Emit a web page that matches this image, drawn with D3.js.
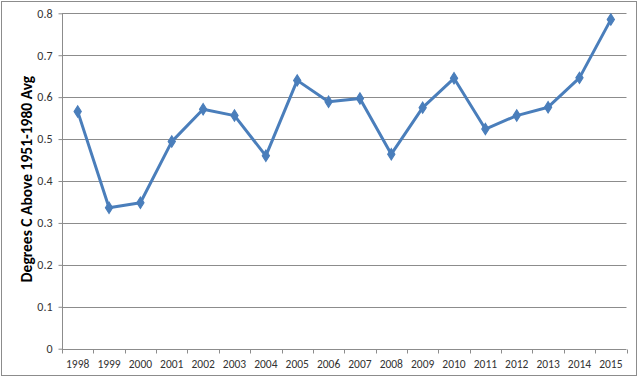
<!DOCTYPE html>
<html>
<head>
<meta charset="utf-8">
<script src="https://cdn.jsdelivr.net/npm/d3@7"></script>
<style>
  body{margin:0;background:#fff;}
  svg{display:block;}
</style>
</head>
<body>
<svg id="chart" width="640" height="377"></svg>
<script>
// data
const years = ["1998","1999","2000","2001","2002","2003","2004","2005","2006","2007","2008","2009","2010","2011","2012","2013","2014","2015"];
const anomaly = [0.566,0.336,0.348,0.494,0.571,0.556,0.460,0.640,0.589,0.597,0.464,0.575,0.645,0.524,0.556,0.576,0.646,0.785];
const yTicks = [0,0.1,0.2,0.3,0.4,0.5,0.6,0.7,0.8];
const yTitle = "Degrees C Above 1951-1980 Avg";

const W = 640, H = 377;
const m = {top:13.3, right:13.5, bottom:28.3, left:62};//plot area
const svg = d3.select("#chart");
const font = "Carlito, Calibri, 'Liberation Sans', sans-serif";

// outer frame
svg.append("rect").attr("x",1.5).attr("y",1.5).attr("width",635).attr("height",374)
  .attr("fill","#fff").attr("stroke","#8c8c8c").attr("stroke-width",1);

const x = d3.scaleBand().domain(years).range([m.left, W - m.right]);
const y = d3.scaleLinear().domain([0,0.8]).range([H - m.bottom, m.top]);

// gridlines
svg.append("g").selectAll("line").data(yTicks.filter(d => d > 0)).join("line")
  .attr("x1", m.left).attr("x2", W - m.right)
  .attr("y1", d => Math.round(y(d)) + 0.5).attr("y2", d => Math.round(y(d)) + 0.5)
  .attr("stroke","#8c8c8c").attr("stroke-width",1);

// y axis
const yAxis = svg.append("g").attr("transform",`translate(${m.left + 0.5},0)`)
  .call(d3.axisLeft(y).tickValues(yTicks).tickFormat(d3.format("")).tickSize(4).tickPadding(6));
yAxis.select(".domain").attr("stroke","#8c8c8c").attr("d",`M0,${m.top}V${Math.round(y(0))+0.5}`);
yAxis.selectAll(".tick line").attr("stroke","#8c8c8c");
yAxis.selectAll(".tick text").attr("fill","#333").style("font-family",font).style("font-size","12px");

// x axis, ticks sit on band boundaries
const xAxis = svg.append("g").attr("transform",`translate(0,${Math.round(y(0)) + 0.5})`)
  .call(d3.axisBottom(x).tickSize(0).tickPadding(10));
xAxis.select(".domain").attr("stroke","#8c8c8c").attr("d",`M${m.left},0H${W - m.right}`);
xAxis.selectAll(".tick text").attr("fill","#333").style("font-family",font).style("font-size","11.5px");
xAxis.append("g").selectAll("line").data(years.concat([null])).join("line")
  .attr("x1",(d,i) => Math.round(m.left + i * x.step()) + 0.5)
  .attr("x2",(d,i) => Math.round(m.left + i * x.step()) + 0.5)
  .attr("y1",0).attr("y2",4).attr("stroke","#8c8c8c");

// y title
svg.append("text")
  .attr("transform",`translate(31.5,${(y(0) + y(0.8)) / 2 - 2}) rotate(-90)`)
  .attr("text-anchor","middle")
  .style("font-family",font).style("font-size","15.5px").style("font-weight","bold")
  .attr("fill","#000").text(yTitle);

// series
const cx = d => x(d) + x.bandwidth() / 2;
const line = d3.line().x((d,i) => cx(years[i])).y(d => y(d));
svg.append("path").datum(anomaly).attr("d",line)
  .attr("fill","none").attr("stroke","#4a7ebb").attr("stroke-width",3).attr("stroke-linejoin","round");

svg.append("g").selectAll("path").data(anomaly).join("path")
  .attr("d", d3.symbol(d3.symbolDiamond, 38))
  .attr("transform",(d,i) => `translate(${cx(years[i])},${y(d)}) scale(1.1,1)`)
  .attr("fill","#4a7ebb").attr("stroke","#4a7ebb").attr("stroke-width",1);
</script>
</body>
</html>
